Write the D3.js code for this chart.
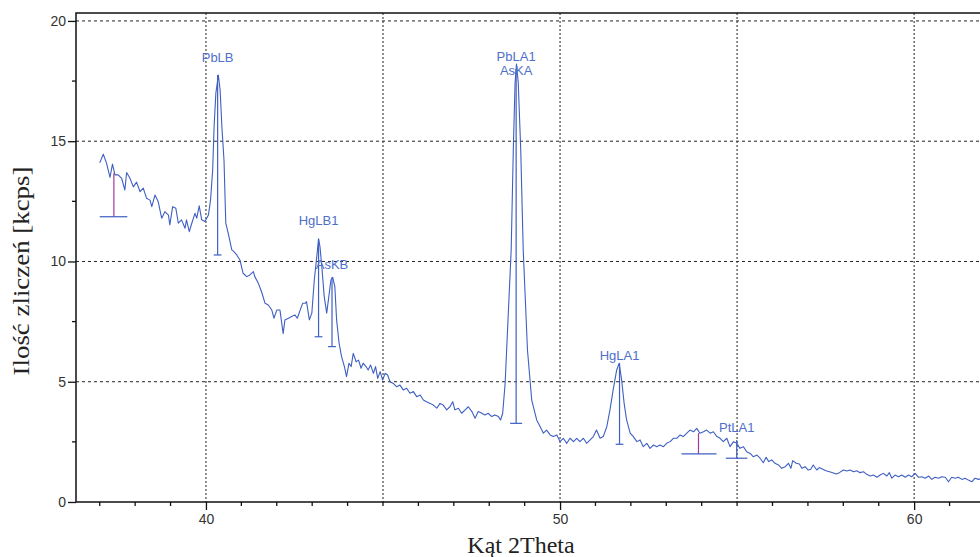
<!DOCTYPE html>
<html lang="pl">
<head>
<meta charset="utf-8">
<script src="https://cdn.jsdelivr.net/npm/d3@7"></script>
<style>
  html, body { margin: 0; padding: 0; background: #fff; }
  svg { display: block; }
  .tick-label { font-family: "Liberation Sans", Arial, sans-serif; font-size: 14px; fill: #333; }
  .axis-title { font-family: "Liberation Serif", "Times New Roman", serif; font-size: 24px; fill: #222; }
  .peak-label { font-family: "Liberation Sans", Arial, sans-serif; font-size: 13px; fill: #4f6fc9; }
</style>
</head>
<body>
<svg id="chart" width="980" height="557"></svg>
<script>
// widmo: [kąt 2Theta, kcps]
const spectrum = [
  [37.00,14.10],[37.10,14.46],[37.19,14.10],[37.29,13.50],[37.36,14.05],[37.43,13.60],[37.52,13.60],[37.62,13.45],
  [37.71,12.97],[37.76,13.70],[37.85,13.47],[37.95,13.10],[38.04,13.30],[38.14,12.90],[38.23,13.05],[38.32,12.63],
  [38.42,12.55],[38.47,12.28],[38.56,12.76],[38.65,12.49],[38.75,11.80],[38.84,12.07],[38.94,11.93],[38.98,11.52],
  [39.06,12.28],[39.15,12.21],[39.22,11.59],[39.31,11.73],[39.41,11.38],[39.45,11.73],[39.53,11.24],[39.60,11.59],
  [39.69,12.00],[39.74,11.80],[39.81,12.31],[39.88,11.73],[39.97,11.66],[40.07,11.93],[40.13,12.56],[40.19,13.80],
  [40.23,15.60],[40.28,17.00],[40.35,17.75],[40.40,17.13],[40.45,15.60],[40.51,14.20],[40.56,11.59],[40.63,11.17],
  [40.73,10.48],[40.79,10.41],[40.87,10.27],[40.96,10.06],[41.05,9.51],[41.15,9.37],[41.24,9.44],[41.34,9.58],
  [41.38,9.37],[41.48,9.09],[41.57,8.74],[41.67,8.26],[41.76,8.19],[41.86,7.98],[41.92,7.64],[42.00,7.98],
  [42.09,7.98],[42.18,7.00],[42.23,7.57],[42.33,7.64],[42.42,7.71],[42.51,7.78],[42.58,7.64],[42.66,7.98],
  [42.73,8.26],[42.80,8.26],[42.84,8.33],[42.92,7.57],[42.99,7.85],[43.06,9.23],[43.13,10.20],[43.18,10.94],
  [43.22,10.62],[43.28,9.65],[43.34,8.54],[43.41,7.85],[43.47,8.54],[43.53,9.23],[43.58,9.34],[43.64,8.95],
  [43.69,7.57],[43.76,6.60],[43.83,6.04],[43.91,5.63],[43.97,5.21],[44.04,5.77],[44.10,5.63],[44.16,6.18],
  [44.24,5.83],[44.31,5.90],[44.38,5.56],[44.44,5.77],[44.52,5.63],[44.58,5.49],[44.65,5.70],[44.73,5.35],
  [44.79,5.63],[44.85,5.14],[44.92,5.42],[44.99,5.07],[45.06,5.35],[45.13,5.28],[45.20,5.00],[45.29,4.93],
  [45.39,4.79],[45.48,4.86],[45.57,4.66],[45.67,4.73],[45.76,4.52],[45.86,4.59],[45.95,4.38],[46.05,4.45],
  [46.14,4.24],[46.23,4.17],[46.33,4.10],[46.42,4.03],[46.52,3.90],[46.61,4.10],[46.70,4.03],[46.80,3.83],
  [46.89,3.96],[46.97,4.17],[47.03,3.83],[47.13,3.90],[47.22,3.69],[47.32,3.83],[47.41,3.96],[47.51,3.76],
  [47.60,3.48],[47.69,3.76],[47.79,3.69],[47.88,3.62],[47.97,3.69],[48.07,3.55],[48.16,3.62],[48.26,3.55],
  [48.32,3.41],[48.38,3.69],[48.45,4.95],[48.53,7.57],[48.62,10.48],[48.68,14.64],[48.73,17.42],[48.77,18.21],
  [48.82,17.42],[48.89,14.64],[48.96,10.48],[49.08,6.32],[49.20,4.24],[49.34,3.41],[49.44,3.13],[49.53,2.86],
  [49.62,2.99],[49.72,2.79],[49.81,2.72],[49.91,2.79],[50.00,2.51],[50.09,2.65],[50.19,2.44],[50.28,2.65],
  [50.38,2.51],[50.47,2.65],[50.56,2.51],[50.66,2.65],[50.75,2.44],[50.85,2.58],[50.94,2.72],[51.03,2.99],
  [51.13,2.65],[51.22,2.72],[51.32,3.13],[51.41,3.83],[51.50,4.66],[51.60,5.49],[51.67,5.77],[51.74,5.07],
  [51.81,4.10],[51.88,3.41],[51.98,2.86],[52.07,2.72],[52.17,2.51],[52.26,2.58],[52.35,2.30],[52.45,2.44],
  [52.54,2.23],[52.64,2.37],[52.73,2.30],[52.82,2.37],[52.92,2.30],[53.01,2.44],[53.11,2.51],[53.20,2.65],
  [53.30,2.65],[53.39,2.79],[53.48,2.72],[53.58,2.86],[53.67,2.99],[53.77,2.92],[53.86,3.06],[53.95,2.86],
  [54.05,2.92],[54.14,2.99],[54.24,2.86],[54.33,2.92],[54.43,2.72],[54.52,2.65],[54.61,2.51],[54.71,2.65],
  [54.80,2.30],[54.90,2.51],[54.99,2.44],[55.08,2.23],[55.18,2.30],[55.27,2.09],[55.37,2.02],[55.46,1.88],
  [55.56,1.95],[55.65,1.82],[55.74,1.63],[55.82,1.86],[55.89,1.68],[55.98,1.75],[56.07,1.61],[56.17,1.54],
  [56.26,1.40],[56.36,1.47],[56.45,1.61],[56.52,1.40],[56.57,1.72],[56.67,1.61],[56.76,1.58],[56.83,1.40],
  [56.92,1.47],[57.01,1.33],[57.08,1.36],[57.15,1.54],[57.25,1.33],[57.32,1.43],[57.42,1.36],[57.51,1.30],
  [57.61,1.26],[57.70,1.22],[57.80,1.16],[57.89,1.22],[58.00,1.33],[58.10,1.29],[58.19,1.33],[58.29,1.26],
  [58.38,1.30],[58.47,1.22],[58.57,1.26],[58.66,1.15],[58.76,1.08],[58.85,1.12],[58.95,1.03],[59.04,1.12],
  [59.13,1.19],[59.23,1.08],[59.30,1.22],[59.37,0.99],[59.46,1.12],[59.56,1.05],[59.65,1.12],[59.75,1.03],
  [59.84,1.12],[59.93,1.05],[60.03,1.19],[60.12,1.03],[60.22,1.05],[60.31,0.99],[60.41,1.08],[60.50,0.94],
  [60.59,1.03],[60.69,0.99],[60.78,1.05],[60.88,1.03],[60.97,0.84],[61.06,1.03],[61.16,0.99],[61.25,1.03],
  [61.35,0.94],[61.44,0.99],[61.53,0.91],[61.63,0.84],[61.72,0.99],[61.82,0.94],[61.90,0.99]
];

// linie pierwiastków: kąt, wierzchołek, podstawa, szerokość podstawy (od–do), etykieta
const markers = [
  { angle: 37.40, top: 13.67, base: 11.86, from: 37.00, to: 37.78, labels: [], labelAt: null, unknown: true },
  { angle: 40.33, top: 17.75, base: 10.27, from: 40.22, to: 40.44, labels: ["PbLB"], labelAt: 18.30 },
  { angle: 43.18, top: 10.94, base: 6.87, from: 43.07, to: 43.29, labels: ["HgLB1"], labelAt: 11.52 },
  { angle: 43.56, top: 9.34, base: 6.46, from: 43.45, to: 43.67, labels: ["AsKB"], labelAt: 9.69 },
  { angle: 48.76, top: 18.00, base: 3.27, from: 48.59, to: 48.93, labels: ["PbLA1", "AsKA"], labelAt: 17.75 },
  { angle: 51.68, top: 5.77, base: 2.40, from: 51.57, to: 51.79, labels: ["HgLA1"], labelAt: 5.90 },
  { angle: 53.91, top: 2.86, base: 2.00, from: 53.43, to: 54.42, labels: [], labelAt: null, unknown: true },
  { angle: 54.99, top: 2.58, base: 1.82, from: 54.68, to: 55.29, labels: ["PtLA1"], labelAt: 2.91 }
];

const xMajorTicks = [40, 50, 60];
const xGridTicks = [40, 45, 50, 55, 60];
const xMinorTicks = [37, 38, 39, 41, 42, 43, 44, 45, 46, 47, 48, 49, 51, 52, 53, 54, 55, 56, 57, 58, 59, 61];
const yMajorTicks = [0, 5, 10, 15, 20];
const yGridTicks = [5, 10, 15, 20];
const yMinorTicks = [2.5, 7.5, 12.5, 17.5];

const xTitle = "Kąt 2Theta";
const yTitle = "Ilość zliczeń [kcps]";

(() => {
  const svg = d3.select("#chart");
  const left = 76, right = 980, top = 13, bottom = 502;

  const x = d3.scaleLinear().domain([36.33, 61.86]).range([left, right]);
  const y = d3.scaleLinear().domain([0, 20.33]).range([bottom, top]);

  const lineColor = "#3f5fc2";

  // siatka
  svg.append("g")
    .selectAll("line")
    .data(yGridTicks)
    .join("line")
    .attr("x1", left).attr("x2", right)
    .attr("y1", d => y(d)).attr("y2", d => y(d))
    .attr("stroke", "#222").attr("stroke-width", 1).attr("stroke-dasharray", "3,3");

  svg.append("g")
    .selectAll("line")
    .data(xGridTicks)
    .join("line")
    .attr("x1", d => x(d)).attr("x2", d => x(d))
    .attr("y1", top).attr("y2", bottom)
    .attr("stroke", "#444").attr("stroke-width", 1.2).attr("stroke-dasharray", "2,2");

  // osie
  const xAxis = svg.append("g").attr("transform", `translate(0,${bottom})`);
  xAxis.call(d3.axisBottom(x).tickValues(xMajorTicks).tickSize(8).tickPadding(4).tickFormat(d3.format("d")));
  xAxis.call(g => g.select(".domain").remove());
  xAxis.selectAll(".tick line").attr("stroke", "#111").attr("stroke-width", 1.3);
  xAxis.selectAll("text").attr("class", "tick-label").attr("fill", null);

  svg.append("g")
    .selectAll("line")
    .data(xMinorTicks)
    .join("line")
    .attr("x1", d => x(d)).attr("x2", d => x(d))
    .attr("y1", bottom).attr("y2", bottom + 4)
    .attr("stroke", "#111").attr("stroke-width", 1.3);

  const yAxis = svg.append("g").attr("transform", `translate(${left},0)`);
  yAxis.call(d3.axisLeft(y).tickValues(yMajorTicks).tickSize(8).tickPadding(2).tickFormat(d3.format("d")));
  yAxis.call(g => g.select(".domain").remove());
  yAxis.selectAll(".tick line").attr("stroke", "#111").attr("stroke-width", 1.3);
  yAxis.selectAll("text").attr("class", "tick-label").attr("fill", null);

  svg.append("g")
    .selectAll("line")
    .data(yMinorTicks)
    .join("line")
    .attr("x1", left - 4).attr("x2", left)
    .attr("y1", d => y(d)).attr("y2", d => y(d))
    .attr("stroke", "#111").attr("stroke-width", 1.3);

  // ramka
  svg.append("path")
    .attr("d", `M${right},${top}H${left}V${bottom}H${right}`)
    .attr("fill", "none")
    .attr("stroke", "#111")
    .attr("stroke-width", 1.5);

  // widmo
  svg.append("path")
    .datum(spectrum)
    .attr("fill", "none")
    .attr("stroke", lineColor)
    .attr("stroke-width", 1.1)
    .attr("stroke-linejoin", "round")
    .attr("d", d3.line().x(d => x(d[0])).y(d => y(d[1])));

  // linie pierwiastków
  const mk = svg.append("g");
  mk.selectAll("line.stem")
    .data(markers)
    .join("line")
    .attr("class", "stem")
    .attr("x1", d => x(d.angle)).attr("x2", d => x(d.angle))
    .attr("y1", d => y(d.top)).attr("y2", d => y(d.base))
    .attr("stroke", d => (d.unknown ? "#a23a9e" : lineColor))
    .attr("stroke-width", 1.2);

  mk.selectAll("line.base")
    .data(markers)
    .join("line")
    .attr("class", "base")
    .attr("x1", d => x(d.from)).attr("x2", d => x(d.to))
    .attr("y1", d => y(d.base)).attr("y2", d => y(d.base))
    .attr("stroke", lineColor)
    .attr("stroke-width", 1.2);

  markers.filter(d => d.labels.length).forEach(d => {
    d.labels.forEach((txt, i) => {
      svg.append("text")
        .attr("class", "peak-label")
        .attr("x", x(d.angle))
        .attr("y", y(d.labelAt) - (d.labels.length - 1 - i) * 14)
        .attr("text-anchor", "middle")
        .text(txt);
    });
  });

  // tytuły osi
  svg.append("text")
    .attr("class", "axis-title")
    .attr("x", 521)
    .attr("y", 553)
    .attr("text-anchor", "middle")
    .text(xTitle);

  svg.append("text")
    .attr("class", "axis-title")
    .attr("transform", "translate(29,271) rotate(-90) scale(1.12,1)")
    .attr("text-anchor", "middle")
    .text(yTitle);
})();
</script>
</body>
</html>
